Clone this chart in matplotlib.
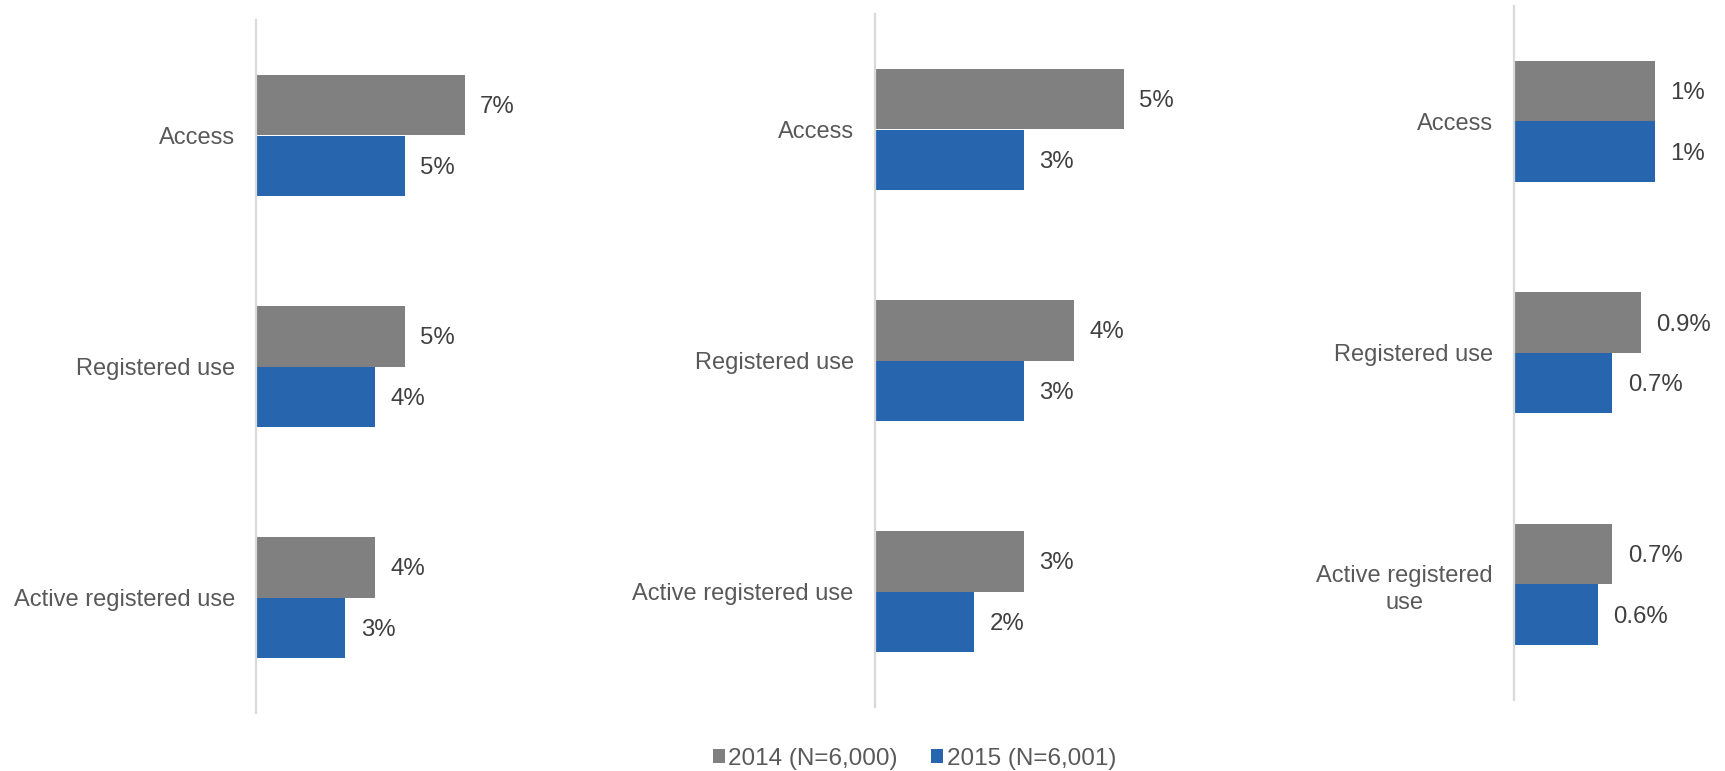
import matplotlib
matplotlib.use("Agg")
import matplotlib.pyplot as plt
from matplotlib.patches import Patch
import numpy as np

plt.rcParams["font.family"] = ["Liberation Sans", "DejaVu Sans"]

categories = ["Access", "Registered use", "Active registered use"]
categories_wrapped = ["Access", "Registered use", "Active registered\nuse"]

panel1_2014 = [7, 5, 4]
panel1_2015 = [5, 4, 3]
panel2_2014 = [5, 4, 3]
panel2_2015 = [3, 3, 2]
panel3_2014 = [1.0, 0.9, 0.7]
panel3_2015 = [1.0, 0.7, 0.6]

series_labels = ["2014 (N=6,000)", "2015 (N=6,001)"]

GRAY = "#808080"
BLUE = "#2766AE"
AXIS = "#D9D9D9"
LABEL = "#595959"
VALUE = "#404040"

W, H = 1725, 771
fig = plt.figure(figsize=(W / 100, H / 100), dpi=100)


def fmt(v):
    return f"{v:g}%" if v >= 1 else f"{v:.1f}%"


def panel(rect, cats, v14, v15, xmax):
    ax = fig.add_axes(rect)
    y = np.arange(len(cats))
    h = 0.262
    ax.barh(y - h / 2, v14, height=h, color=GRAY)
    ax.barh(y + h / 2, v15, height=h, color=BLUE)
    for yi, a, b in zip(y, v14, v15):
        ax.annotate(fmt(a), (a, yi - h / 2), xytext=(11, -1.5), textcoords="offset points",
                    va="center", ha="left", fontsize=17.3, color=VALUE)
        ax.annotate(fmt(b), (b, yi + h / 2), xytext=(11, -1.5), textcoords="offset points",
                    va="center", ha="left", fontsize=17.3, color=VALUE)
    ax.set_ylim(len(cats) - 0.5, -0.5)
    ax.set_xlim(0, xmax)
    ax.set_yticks(y)
    ax.set_yticklabels(cats, fontsize=17, color=LABEL, ha="right",
                       multialignment="center", linespacing=1.3)
    ax.tick_params(axis="y", length=0, pad=15)
    ax.set_xticks([])
    for s in ["top", "right", "bottom"]:
        ax.spines[s].set_visible(False)
    ax.spines["left"].set_color(AXIS)
    ax.spines["left"].set_linewidth(1.6)
    ax.set_facecolor("none")
    return ax


def rect(x_axis, y_top, y_bot, x_right):
    return [x_axis / W, 1 - y_bot / H, (x_right - x_axis) / W, (y_bot - y_top) / H]


panel(rect(256, 20, 713, 494.6), categories, panel1_2014, panel1_2015, 8)
panel(rect(874.5, 14, 707, 1174), categories, panel2_2014, panel2_2015, 6)
panel(rect(1513.6, 5.5, 700, 1683), categories_wrapped, panel3_2014, panel3_2015, 1.2)

handles = [Patch(facecolor=GRAY), Patch(facecolor=BLUE)]
fig.legend(handles, series_labels, loc="center", bbox_to_anchor=(0.530, 0.0156),
           ncol=2, frameon=False, fontsize=17.5, labelcolor=LABEL,
           handlelength=0.5, handleheight=0.5, handletextpad=0.15, columnspacing=1.35)

fig.savefig("out.png", dpi=100)
